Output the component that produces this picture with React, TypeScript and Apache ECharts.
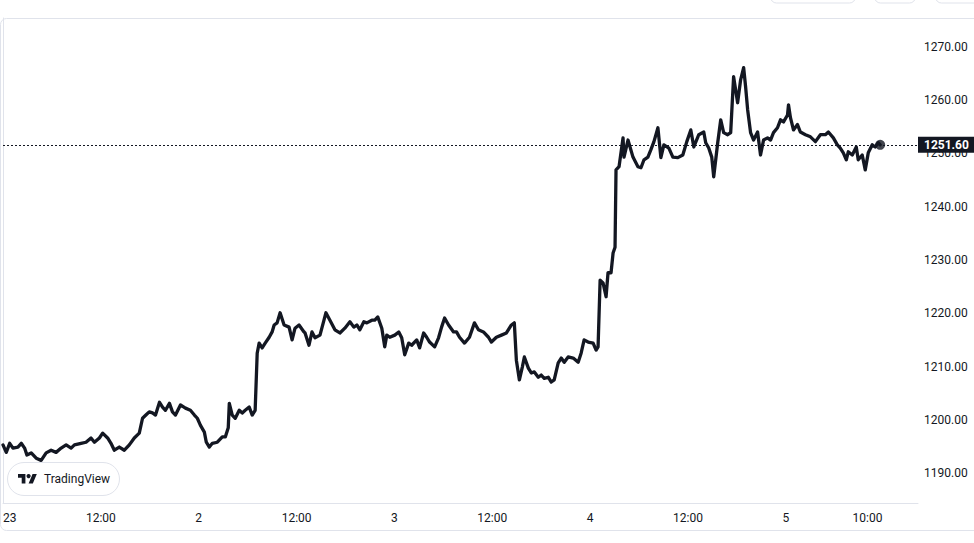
import React, { useEffect, useRef } from "react";
import * as echarts from "echarts";

// Time in hours since the start of day "23" (day 1 00:00)
const hours = [
  0, 0.4, 0.82, 1.22, 1.83, 2.24, 2.65, 2.93, 3.46, 4.07,
  4.68, 5.29, 5.9, 6.51, 7.13, 7.74, 8.35, 8.76, 9.57, 10.18,
  10.79, 11.21, 11.82, 12.22, 12.83, 13.24, 13.65, 14.26, 14.88, 15.49,
  16.1, 16.71, 17.11, 17.52, 17.93, 18.33,
  18.7, 19.19, 19.56, 19.92, 20.41, 20.78, 21.15, 21.76, 22.37, 22.98,
  23.47, 23.83, 24.2, 24.69, 24.93, 25.3, 25.67, 26.28, 26.89, 27.26,
  27.62, 27.75, 28.11, 28.48, 28.97, 29.34, 29.7, 30.19, 30.56, 30.92,
  31.17, 31.41, 31.78, 32.15, 32.64, 33.0, 33.25, 33.61, 33.98, 34.47,
  35.08, 35.45, 35.81, 36.3, 36.91,
  37.04, 37.52, 37.89, 38.26, 38.87, 39.36, 39.6, 40.09, 40.7, 41.31,
  41.92, 42.54, 43.02, 43.39, 43.76, 44.25, 44.61, 45.23, 45.59, 45.96,
  46.45, 46.81, 47.06, 47.43, 48.04, 48.53, 48.89, 49.26, 49.75, 50.11,
  50.73, 51.09, 51.58, 51.95, 52.31, 52.93, 53.41, 53.78, 54.15, 54.64,
  55.25, 55.61, 55.98, 56.59, 57.2, 57.81, 58.3, 58.91, 59.53, 59.89,
  60.5, 61.12, 61.73, 62.34, 62.7,
  62.95, 63.32, 63.68, 63.93, 64.42, 64.78, 65.15, 65.64, 66.0, 66.37,
  66.86, 67.23, 67.59, 68.08, 68.45, 68.82, 69.3, 69.92, 70.53, 70.89,
  71.26, 71.75, 72.36, 72.73, 72.97, 73.22, 73.58, 73.95, 74.19, 74.56,
  74.81, 75.05, 75.17, 75.54, 76.03, 76.15, 76.64, 77.25, 77.86, 78.23,
  78.6, 79.08, 79.45, 79.82, 80.31, 80.67, 81.04, 81.65, 82.14, 82.75,
  83.36, 83.85, 84.34, 84.71, 85.32, 85.93, 86.17, 86.54, 86.91, 87.15,
  87.64, 88.01, 88.37, 88.86, 89.23, 89.59, 89.84, 90.08, 90.45, 90.82,
  91.06, 91.31, 91.67, 92.04, 92.53, 92.89, 93.26, 93.75, 94.12, 94.48,
  94.97, 95.34, 95.71, 96.2, 96.32, 96.56, 96.93, 97.42, 97.78, 98.4,
  99.01, 99.62, 100.23, 100.84, 101.21, 101.82, 102.31, 102.67, 103.04, 103.41,
  103.65, 104.14, 104.63, 104.87, 105.36, 105.73, 106.1, 106.59, 106.95, 107.32,
  107.56,
];

const prices = [
  1195.3, 1193.9, 1195.6, 1194.7, 1194.9, 1195.6, 1194.7, 1193.4, 1193.8, 1192.8,
  1192.4, 1193.8, 1194.3, 1193.9, 1194.7, 1195.3, 1194.7, 1195.3, 1195.6, 1195.8,
  1196.6, 1195.8, 1196.6, 1197.5, 1196.6, 1195.6, 1194.3, 1194.9, 1194.3, 1195.3,
  1196.6, 1197.5, 1200.3, 1200.9, 1201.5, 1201.3,
  1200.9, 1203.3, 1202.4, 1201.8, 1203.1, 1201.5, 1200.9, 1202.8, 1202.2, 1201.8,
  1200.9, 1200.3, 1199.0, 1197.7, 1195.8, 1194.9, 1195.6, 1195.8, 1196.8, 1196.8,
  1198.5, 1203.1, 1200.9, 1200.3, 1201.8, 1201.3, 1201.8, 1202.4, 1200.9, 1201.8,
  1212.5, 1214.4, 1213.5, 1214.4, 1215.5, 1216.5, 1217.8, 1218.2, 1220.1, 1217.8,
  1217.4, 1215.0, 1217.2, 1217.8, 1216.5,
  1216.3, 1214.0, 1216.5, 1215.4, 1215.9, 1218.7, 1220.1, 1218.7, 1216.9, 1216.3,
  1217.2, 1218.4, 1217.4, 1217.8, 1216.9, 1218.4, 1218.2, 1218.7, 1218.7, 1219.3,
  1217.2, 1213.7, 1215.9, 1215.5, 1215.9, 1216.5, 1215.4, 1212.2, 1214.4, 1214.0,
  1215.0, 1213.5, 1216.3, 1215.5, 1214.6, 1213.7, 1215.4, 1217.4, 1219.1, 1217.8,
  1216.5, 1216.5, 1215.5, 1214.4, 1215.5, 1218.2, 1216.9, 1216.5, 1215.5, 1214.6,
  1215.5, 1215.9, 1216.3, 1217.8, 1218.2,
  1211.2, 1207.5, 1209.9, 1211.8, 1209.7, 1208.8, 1209.0, 1208.0, 1208.4, 1207.8,
  1208.0, 1207.1, 1207.5, 1210.7, 1211.6, 1210.8, 1211.8, 1211.6, 1210.8, 1212.5,
  1215.0, 1214.6, 1214.4, 1213.1, 1213.7, 1226.2, 1225.7, 1223.1, 1227.6, 1227.6,
  1231.3, 1232.4, 1246.9, 1247.5, 1252.9, 1249.3, 1252.5, 1249.3, 1247.5, 1247.3,
  1248.8, 1249.3, 1250.7, 1252.2, 1254.8, 1249.2, 1251.6, 1251.0, 1249.3, 1249.2,
  1249.7, 1252.2, 1254.4, 1251.2, 1253.5, 1254.0, 1252.0, 1251.0, 1249.3, 1245.6,
  1252.0, 1256.3, 1253.9, 1253.5, 1253.9, 1264.4, 1261.9, 1259.5, 1263.8, 1266.1,
  1262.5, 1258.2, 1253.9, 1252.5, 1254.0, 1249.7, 1252.5, 1252.9, 1252.5, 1253.9,
  1254.8, 1256.3, 1255.9, 1257.2, 1259.1, 1256.7, 1254.4, 1255.4, 1254.0, 1253.5,
  1253.1, 1252.2, 1253.5, 1253.5, 1254.0, 1252.9, 1251.6, 1251.0, 1250.1, 1248.8,
  1250.3, 1249.7, 1251.2, 1248.8, 1249.7, 1246.9, 1250.1, 1251.6, 1251.2, 1252.0,
  1251.6,
];

const yTicks = [1190, 1200, 1210, 1220, 1230, 1240, 1250, 1260, 1270];
const xTickHours = [0, 12, 24, 36, 48, 60, 72, 84, 96, 106];
const xTickLabels = ["23", "12:00", "2", "12:00", "3", "12:00", "4", "12:00", "5", "10:00"];

const TV_LOGO_PATH = "M14 22H7V11H0V4h14v18zM28 22h-8l7.5-18h8L28 22z";
echarts.graphic.registerShape("tvlogo", echarts.graphic.extendPath(TV_LOGO_PATH, {}));

const INK = "#131722";
const BORDER = "#e0e3eb";
const FONT = "Roboto, 'Noto Sans', sans-serif";

export default function App() {
  const ref = useRef<HTMLDivElement>(null);

  useEffect(() => {
    if (!ref.current) return;
    const chart = echarts.init(ref.current, undefined, { renderer: "svg" });
    const data = hours.map((h, i) => [h, prices[i]]);
    const last = data[data.length - 1];
    const lastPrice = prices[prices.length - 1];

    chart.setOption({
      animation: false,
      backgroundColor: "#ffffff",
      textStyle: { fontFamily: FONT },
      grid: { left: 0, right: 56, top: 18, bottom: 40 },
      xAxis: {
        type: "value",
        min: 0,
        max: 112.2,
        axisLine: { show: true, lineStyle: { color: BORDER, width: 1 } },
        axisTick: { show: false },
        splitLine: { show: false },
        axisLabel: {
          customValues: xTickHours,
          color: INK,
          fontSize: 12,
          fontFamily: FONT,
          margin: 9,
          alignMinLabel: "left",
          formatter: (v: number) => {
            const i = xTickHours.indexOf(v);
            return i >= 0 ? xTickLabels[i] : "";
          },
        },
      },
      yAxis: {
        type: "value",
        position: "right",
        min: 1184.4,
        max: 1275.4,
        axisLine: { show: true, lineStyle: { color: BORDER, width: 1 } },
        axisTick: { show: false },
        splitLine: { show: false },
        axisLabel: {
          customValues: yTicks,
          color: INK,
          fontSize: 12,
          fontFamily: FONT,
          margin: 6,
          formatter: (v: number) => v.toFixed(2),
        },
      },
      series: [
        {
          type: "line",
          data,
          showSymbol: false,
          symbol: "none",
          lineStyle: { color: INK, width: 3.3, join: "round", cap: "round" },
          z: 3,
          markLine: {
            silent: true,
            symbol: "none",
            lineStyle: { color: INK, width: 1, type: [2, 2] },
            label: {
              show: true,
              position: "end",
              distance: 0,
              formatter: () => lastPrice.toFixed(2),
              backgroundColor: INK,
              color: "#ffffff",
              fontWeight: "bold",
              fontSize: 12,
              lineHeight: 12,
              fontFamily: FONT,
              padding: [2, 6, 2, 6],
            },
            data: [{ yAxis: lastPrice }],
          },
        },
        {
          type: "scatter",
          data: [last],
          symbol: "circle",
          symbolSize: 10,
          itemStyle: { color: INK },
          z: 4,
        },
      ],
      graphic: [
        {
          type: "rect",
          silent: true,
          z: -10,
          shape: { x: 0.5, y: 18.5, width: 990, height: 512, r: 6 },
          style: { fill: "none", stroke: BORDER, lineWidth: 1 },
        },
        {
          type: "rect",
          silent: true,
          shape: { x: 770.5, y: -20, width: 85, height: 23, r: 6 },
          style: { fill: "none", stroke: BORDER, lineWidth: 1 },
        },
        {
          type: "rect",
          silent: true,
          shape: { x: 874.5, y: -20, width: 41, height: 23, r: 6 },
          style: { fill: "none", stroke: BORDER, lineWidth: 1 },
        },
        {
          type: "rect",
          silent: true,
          shape: { x: 935.5, y: -20, width: 60, height: 23, r: 6 },
          style: { fill: "none", stroke: BORDER, lineWidth: 1 },
        },
        {
          type: "group",
          z: 100,
          children: [
            {
              type: "rect",
              shape: { x: 7.5, y: 462.5, width: 112, height: 33, r: 16.5 },
              style: { fill: "#ffffff", stroke: BORDER, lineWidth: 1 },
            },
            {
              type: "tvlogo",
              x: 18,
              y: 471.9,
              scaleX: 0.53,
              scaleY: 0.53,
              style: { fill: INK },
            },
            {
              type: "circle",
              shape: { cx: 28.6, cy: 476.1, r: 2.1 },
              style: { fill: INK },
            },
            {
              type: "text",
              x: 44,
              y: 479,
              style: {
                text: "TradingView",
                fill: INK,
                font: "12px " + FONT,
                verticalAlign: "middle",
                align: "left",
              },
            },
          ],
        },
      ],
    });

    return () => chart.dispose();
  }, []);

  return (
    <div
      ref={ref}
      style={{ position: "absolute", left: 0, top: 0, width: 974, height: 543 }}
    />
  );
}
